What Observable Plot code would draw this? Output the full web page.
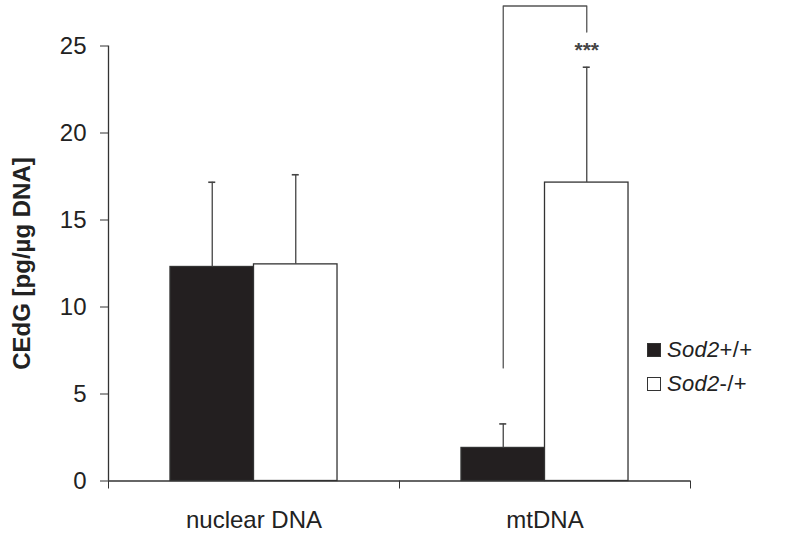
<!DOCTYPE html>
<html>
<head>
<meta charset="utf-8">
<script src="https://cdn.jsdelivr.net/npm/d3@7"></script>
<script src="https://cdn.jsdelivr.net/npm/@observablehq/plot@0.6"></script>
<style>
  html, body { margin: 0; padding: 0; background: #fff; }
  #wrap { position: relative; width: 800px; height: 534px; font-family: "Liberation Sans", Arial, sans-serif; }
  #legend { position: absolute; left: 647px; top: 333px; font-size: 22px; color: #222; letter-spacing: 0.3px; }
  .item { display: flex; align-items: center; height: 34px; }
  .sw { width: 14px; height: 14px; box-sizing: border-box; border: 1.3px solid #333; margin-right: 6px; }
</style>
</head>
<body>
<div id="wrap"></div>
<script>
// ---- data ----
const categories = ["nuclear DNA", "mtDNA"];
const genotypes = ["Sod2+/+", "Sod2-/+"];
const meanWT = [12.3, 1.9];      // Sod2+/+
const sdWT = [4.87, 1.38];
const meanHet = [12.45, 17.15];  // Sod2-/+
const sdHet = [5.15, 6.63];
const yTicks = [0, 5, 10, 15, 20, 25];
const yLabel = "CEdG [pg/µg DNA]";
// significance bracket (mtDNA): left foot, top, right foot
const bracketLeftY = 6.5;
const bracketTopY = 27.3;
const bracketRightY = 25.8;
const starsY = 24.75;
const starsText = "***";

// ---- build ----
const barW = 0.287; // fraction of a category slot
const fills = ["#231f20", "#ffffff"];
const rows = [];
categories.forEach((c, i) => {
  rows.push({cat: c, g: 0, x1: i + 0.5 - barW, x2: i + 0.5, mean: meanWT[i], sd: sdWT[i]});
  rows.push({cat: c, g: 1, x1: i + 0.5, x2: i + 0.5 + barW, mean: meanHet[i], sd: sdHet[i]});
});
rows.forEach(r => { r.cx = (r.x1 + r.x2) / 2; r.top = r.mean + r.sd; });

const mtWT = rows[2], mtHet = rows[3];
const bracket = [
  {x: mtWT.cx, y: bracketLeftY},
  {x: mtWT.cx, y: bracketTopY},
  {x: mtHet.cx, y: bracketTopY},
  {x: mtHet.cx, y: bracketRightY}
];

const line = "#333";
const chart = Plot.plot({
  width: 800,
  height: 534,
  marginLeft: 108,
  marginRight: 110,
  marginTop: 2,
  marginBottom: 53.5,
  style: {fontFamily: "'Liberation Sans', Arial, sans-serif", color: "#222", background: "#fff"},
  x: {domain: [0, 2]},
  y: {domain: [0, 27.5]},
  marks: [
    Plot.rectY(rows, {x1: "x1", x2: "x2", y1: 0, y2: "mean", fill: d => fills[d.g], stroke: line, strokeWidth: 1.3}),
    Plot.ruleX(rows, {x: "cx", y1: "mean", y2: "top", stroke: "#444", strokeWidth: 1.3}),
    Plot.ruleY(rows, {y: "top", x1: "cx", x2: "cx", insetLeft: -3.5, insetRight: -3.5, stroke: "#444", strokeWidth: 1.6}),
    Plot.line(bracket, {x: "x", y: "y", stroke: "#555", strokeWidth: 1.3}),
    Plot.text([starsText], {x: mtHet.cx, y: starsY, fontSize: 21, fill: "#444", fontWeight: "bold"}),
    Plot.ruleX([0], {y1: 0, y2: 25, stroke: line, strokeWidth: 1.3}),
    Plot.ruleY([0], {x1: 0, x2: 2, stroke: line, strokeWidth: 1.3}),
    Plot.axisY({ticks: yTicks, tickSize: 8, tickPadding: 14, fontSize: 24, label: null, stroke: line}),
    Plot.axisX({ticks: [0, 1, 2], tickSize: 8, tickFormat: () => "", label: null, stroke: line}),
    Plot.text(categories, {x: (d, i) => i + 0.5, y: 0, dy: 39, fontSize: 24, fill: "#222", style: "letter-spacing:1px"}),
    Plot.text([yLabel], {x: 0, y: 12.5, dx: -86, rotate: -90, fontSize: 24, fontWeight: "bold", fill: "#222", style: "letter-spacing:0.8px"})
  ]
});
const wrap = document.getElementById("wrap");
wrap.appendChild(chart);

// legend overlay
const leg = document.createElement("div");
leg.id = "legend";
genotypes.forEach((g, i) => {
  const m = g.match(/^(Sod2)(.*)$/);
  const it = document.createElement("div");
  it.className = "item";
  it.innerHTML = `<span class="sw" style="background:${fills[i]}"></span><span><i>${m[1]}</i>${m[2]}</span>`;
  leg.appendChild(it);
});
wrap.appendChild(leg);
</script>
</body>
</html>
